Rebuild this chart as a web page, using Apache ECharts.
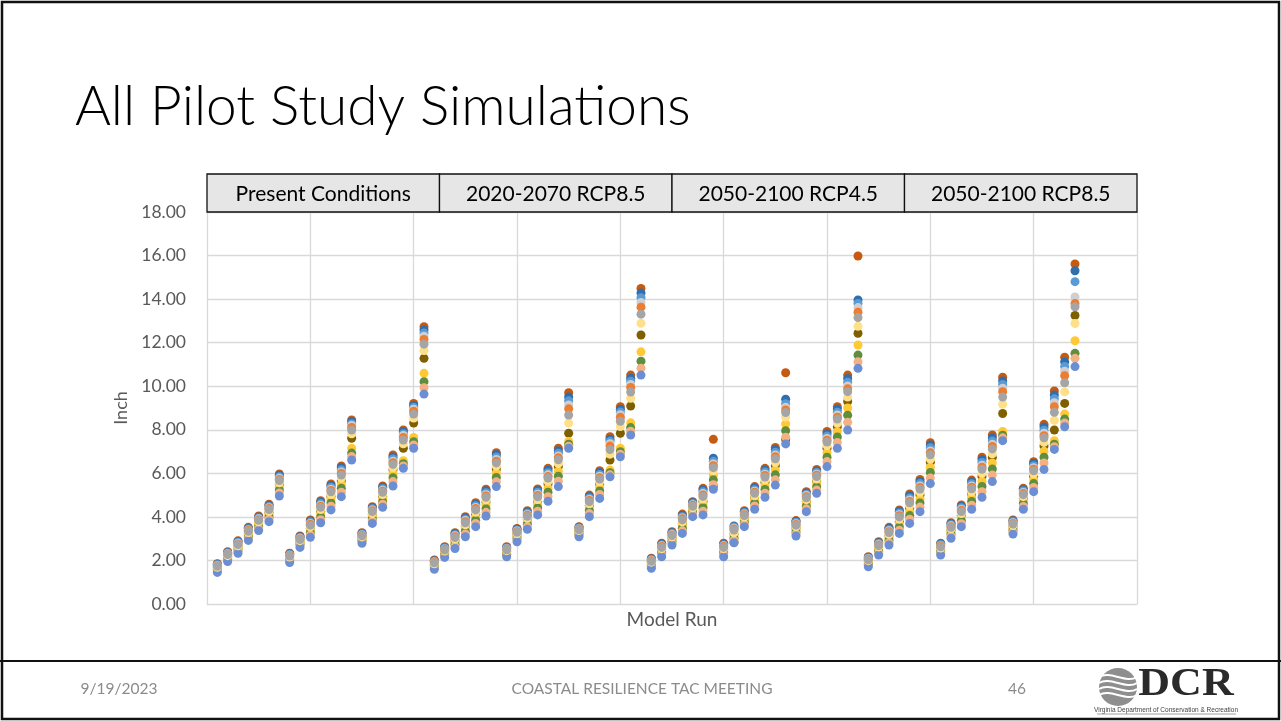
<!DOCTYPE html>
<html>
<head>
<meta charset="utf-8">
<script src="https://cdn.jsdelivr.net/npm/echarts@6/dist/echarts.min.js"></script>
<style>
html,body{margin:0;padding:0;background:#fff;}
#chart{width:1281px;height:721px;}
</style>
</head>
<body>
<div id="chart"></div>
<script>
// ---- Data ----
const runs = [1,2,3,4,5,6,7,8,9,10,11,12,13,14,15,16,17,18,19,20,21,
  22,23,24,25,26,27,28,29,30,31,32,33,34,35,36,37,38,39,40,41,42,
  43,44,45,46,47,48,49,50,51,52,53,54,55,56,57,58,59,60,61,62,63,
  64,65,66,67,68,69,70,71,72,73,74,75,76,77,78,79,80,81,82,83,84];

const panelLabels = ['Present Conditions','2020-2070 RCP8.5','2050-2100 RCP4.5','2050-2100 RCP8.5'];
const yTicks = [0,2,4,6,8,10,12,14,16,18];

const brown = [1.85,2.40,2.90,3.52,4.04,4.58,5.97, 2.33,3.12,3.86,4.74,5.51,6.34,8.45, 3.27,4.47,5.42,6.84,7.99,9.21,12.73,
  2.02,2.63,3.27,4.01,4.65,5.27,6.95, 2.63,3.47,4.28,5.28,6.23,7.15,9.70, 3.55,5.00,6.12,7.68,9.06,10.51,14.49,
  2.10,2.79,3.32,4.13,4.70,5.31,7.56, 2.79,2.83,4.28,5.39,6.23,7.19,10.62, 3.83,5.16,6.18,7.92,9.06,10.51,15.98,
  2.17,2.86,3.52,4.32,5.05,5.72,7.41, 2.79,3.73,4.55,5.69,6.74,7.76,10.41, 3.86,5.31,6.53,8.25,9.78,11.33,15.61];
const darkBlue = [1.83,2.37,2.87,3.48,4.00,4.53,5.91, 2.30,3.09,3.81,4.68,5.44,6.26,8.37, 3.24,4.42,5.36,6.75,7.91,9.12,12.59,
  1.99,2.60,3.23,3.95,4.58,5.20,6.86, 2.60,3.43,4.23,5.21,6.14,7.04,9.51, 3.52,4.94,6.04,7.57,8.94,10.37,14.28,
  2.07,2.75,3.28,4.08,4.66,5.24,6.69, 2.75,3.58,4.24,5.33,6.15,7.09,9.40, 3.79,5.10,6.11,7.82,8.95,10.36,13.96,
  2.14,2.82,3.47,4.26,4.97,5.63,7.30, 2.76,3.69,4.49,5.61,6.63,7.63,10.24, 3.82,5.25,6.45,8.13,9.60,11.12,15.30];
const lightBlue = [1.80,2.34,2.83,3.44,3.95,4.48,5.84, 2.27,3.05,3.76,4.61,5.36,6.16,8.28, 3.21,4.37,5.29,6.66,7.82,9.03,12.44,
  1.96,2.57,3.18,3.89,4.51,5.11,6.75, 2.57,3.39,4.17,5.13,6.03,6.92,9.33, 3.49,4.87,5.95,7.47,8.82,10.23,14.06,
  2.04,2.71,3.24,4.01,4.61,5.15,6.55, 2.71,3.53,4.19,5.25,6.06,6.97,9.20, 3.74,5.04,6.04,7.71,8.81,10.18,13.80,
  2.11,2.78,3.41,4.18,4.87,5.53,7.17, 2.72,3.64,4.42,5.52,6.50,7.48,10.08, 3.78,5.19,6.35,7.98,9.42,10.91,14.80];
const lightGray = [1.77,2.31,2.79,3.40,3.91,4.42,5.77, 2.24,3.02,3.70,4.54,5.27,6.06,8.20, 3.17,4.32,5.22,6.56,7.74,8.94,12.30,
  1.93,2.53,3.13,3.83,4.43,5.02,6.64, 2.54,3.35,4.11,5.04,5.93,6.80,9.14, 3.46,4.80,5.87,7.36,8.69,10.08,13.85,
  2.01,2.67,3.20,3.95,4.56,5.07,6.43, 2.67,3.48,4.13,5.18,5.96,6.84,9.03, 3.69,4.98,5.96,7.60,8.68,10.01,13.61,
  2.08,2.74,3.36,4.10,4.78,5.42,7.03, 2.68,3.59,4.35,5.42,6.37,7.33,9.91, 3.73,5.12,6.26,7.84,9.24,10.69,14.10];
const orange = [1.75,2.29,2.76,3.37,3.87,4.38,5.72, 2.22,2.99,3.66,4.49,5.21,5.99,8.11, 3.15,4.28,5.18,6.49,7.65,8.85,12.15,
  1.91,2.51,3.09,3.78,4.38,4.96,6.56, 2.52,3.32,4.07,4.98,5.85,6.71,8.96, 3.44,4.75,5.80,7.25,8.57,9.94,13.63,
  1.99,2.64,3.17,3.91,4.53,5.01,6.35, 2.64,3.44,4.10,5.13,5.90,6.76,8.91, 3.65,4.93,5.91,7.52,8.58,9.88,13.40,
  2.06,2.71,3.32,4.05,4.71,5.35,6.94, 2.66,3.55,4.30,5.36,6.28,7.23,9.75, 3.70,5.07,6.19,7.73,9.06,10.48,13.80];
const gray = [1.73,2.27,2.73,3.34,3.84,4.34,5.67, 2.20,2.96,3.62,4.44,5.15,5.92,7.99, 3.13,4.24,5.13,6.41,7.53,8.72,11.93,
  1.89,2.48,3.05,3.73,4.32,4.90,6.48, 2.49,3.29,4.03,4.92,5.78,6.62,8.68, 3.41,4.70,5.74,7.09,8.39,9.73,13.31,
  1.96,2.60,3.14,3.86,4.49,4.94,6.26, 2.60,3.40,4.06,5.08,5.83,6.67,8.79, 3.62,4.88,5.85,7.44,8.49,9.75,13.15,
  2.03,2.68,3.28,4.00,4.65,5.28,6.85, 2.63,3.52,4.25,5.29,6.19,7.12,9.50, 3.67,5.02,6.12,7.63,8.80,10.16,13.65];
const lightYellow = [1.69,2.22,2.67,3.28,3.77,4.26,5.57, 2.16,2.91,3.54,4.34,5.03,5.78,7.82, 3.08,4.16,5.03,6.27,7.36,8.54,11.64,
  1.85,2.43,2.98,3.64,4.21,4.78,6.33, 2.45,3.23,3.94,4.80,5.63,6.45,8.31, 3.37,4.60,5.61,6.88,8.15,9.45,12.89,
  1.92,2.54,3.08,3.77,4.42,4.82,6.12, 2.54,3.27,3.99,4.97,5.70,6.50,8.58, 3.55,4.79,5.74,7.28,8.30,9.50,12.75,
  1.99,2.62,3.20,3.89,4.51,5.13,6.66, 2.57,3.45,4.15,5.15,6.00,6.90,9.17, 3.60,4.93,5.98,7.42,8.44,9.74,12.88];
const olive = [1.66,2.18,2.63,3.23,3.72,4.20,5.49, 2.12,2.87,3.48,4.26,4.94,5.66,7.61, 3.04,4.10,4.95,6.16,7.15,8.31,11.28,
  1.81,2.39,2.92,3.57,4.12,4.68,6.20, 2.41,3.18,3.87,4.71,5.51,6.31,7.84, 3.33,4.52,5.51,6.61,7.84,9.09,12.35,
  1.88,2.49,3.03,3.70,4.37,4.72,5.41, 2.49,3.21,3.93,4.89,5.59,6.36,7.55, 3.49,4.72,5.65,7.15,8.14,9.30,12.43,
  1.95,2.57,3.13,3.80,4.40,5.01,6.51, 2.53,3.39,4.07,5.05,5.86,6.73,8.75, 3.55,4.85,5.87,7.26,7.99,9.21,13.25];
const yellow = [1.61,2.13,2.56,3.16,3.64,4.10,5.36, 2.07,2.81,3.38,4.13,4.80,5.49,7.15, 2.98,4.01,4.83,5.99,6.58,7.65,10.59,
  1.76,2.34,2.84,3.46,3.99,4.53,6.01, 2.35,3.10,3.77,4.57,5.32,6.09,7.46, 3.27,4.41,5.36,6.15,7.15,8.32,11.58,
  1.82,2.42,2.95,3.60,4.29,4.58,5.91, 2.42,3.12,3.84,4.77,5.43,6.15,8.27, 3.40,4.61,5.52,6.95,7.91,9.00,11.89,
  1.89,2.49,3.03,3.67,4.24,4.83,6.28, 2.47,3.30,3.95,4.89,5.64,6.48,7.92, 3.47,4.73,5.71,7.01,7.50,8.72,12.09];
const green = [1.56,2.07,2.48,3.08,3.55,4.00,5.23, 2.02,2.74,3.28,4.00,4.64,5.31,6.93, 2.92,3.91,4.70,5.80,6.44,7.45,10.21,
  1.71,2.27,2.74,3.34,3.85,4.37,5.81, 2.29,3.02,3.66,4.41,5.13,5.87,7.34, 3.21,4.28,5.19,6.03,6.99,8.10,11.15,
  1.76,2.34,2.87,3.48,4.20,4.42,5.70, 2.34,3.02,3.75,4.63,5.26,5.93,7.96, 3.31,4.49,5.38,6.74,7.67,8.67,11.43,
  1.83,2.41,2.93,3.53,4.06,4.64,6.04, 2.40,3.21,3.82,4.71,5.40,6.20,7.75, 3.39,4.61,5.53,6.74,7.34,8.49,11.51];
const salmon = [1.51,2.01,2.41,3.00,3.46,3.89,5.10, 1.96,2.67,3.17,3.87,4.49,5.13,6.77, 2.86,3.81,4.58,5.62,6.34,7.30,9.93,
  1.65,2.21,2.65,3.22,3.70,4.21,5.61, 2.23,2.95,3.55,4.26,4.93,5.64,7.24, 3.15,4.15,5.03,5.93,6.88,7.93,10.83,
  1.70,2.26,2.80,3.36,4.11,4.26,5.48, 2.26,2.92,3.65,4.50,5.09,5.70,7.66, 3.22,4.37,5.23,6.54,7.42,8.34,11.12,
  1.77,2.34,2.82,3.39,3.89,4.45,5.79, 2.33,3.12,3.69,4.54,5.16,5.92,7.63, 3.30,4.48,5.35,6.47,7.22,8.31,11.28];
const periwinkle = [1.45,1.95,2.33,2.92,3.37,3.78,4.96, 1.90,2.60,3.06,3.73,4.32,4.93,6.61, 2.79,3.70,4.44,5.42,6.23,7.15,9.64,
  1.59,2.14,2.55,3.09,3.55,4.04,5.39, 2.17,2.86,3.43,4.09,4.72,5.39,7.15, 3.09,4.01,4.85,5.84,6.76,7.76,10.51,
  1.64,2.17,2.71,3.24,4.01,4.09,5.27, 2.17,2.81,3.55,4.35,4.90,5.46,7.35, 3.12,4.24,5.08,6.31,7.15,7.99,10.82,
  1.71,2.25,2.71,3.24,3.70,4.24,5.53, 2.25,3.02,3.55,4.35,4.90,5.62,7.50, 3.21,4.35,5.16,6.18,7.10,8.14,10.90];

// ---- Styling ----
const seriesDefs = [
  {name:'S1', data:brown, color:'#C55A11'},
  {name:'S2', data:darkBlue, color:'#2F6FAE'},
  {name:'S3', data:lightBlue, color:'#5B9BD5'},
  {name:'S4', data:lightGray, color:'#D0CECE'},
  {name:'S5', data:orange, color:'#ED7D31'},
  {name:'S6', data:olive, color:'#7F6000'},
  {name:'S7', data:yellow, color:'#FFC935'},
  {name:'S8', data:green, color:'#5E8E3E'},
  {name:'S9', data:salmon, color:'#F4B183'},
  {name:'S10', data:periwinkle, color:'#6C8ED3'},
  {name:'S11', data:lightYellow, color:'#FFE08A'},
  {name:'S12', data:gray, color:'#A5A5A5'}
];

const G = {left:207, top:212, width:930, height:392};
const headerTop = 174, headerH = G.top - headerTop;
const W = 1281, H = 721;
const FONT = 'Lato, "Open Sans", sans-serif';

const chart = echarts.init(document.getElementById('chart'), null, {renderer:'canvas'});

const graphics = [];
// slide frame
graphics.push({type:'rect', shape:{x:2, y:2, width:W-4, height:H-4}, style:{fill:'none', stroke:'#111', lineWidth:2.5}, z:0});
graphics.push({type:'line', shape:{x1:0, y1:661, x2:W, y2:661}, style:{stroke:'#111', lineWidth:2}, z:0});
// title
graphics.push({type:'text', x:75, y:107, style:{text:'All Pilot Study Simulations', font:'300 55px ' + FONT, fill:'#000', verticalAlign:'middle', align:'left'}});
// header boxes
const pw = G.width / panelLabels.length;
panelLabels.forEach((lab, i) => {
  graphics.push({type:'rect', shape:{x:G.left + i*pw, y:headerTop, width:pw, height:headerH},
    style:{fill:'#E7E6E6', stroke:'#111', lineWidth:1.3}, z:5});
  graphics.push({type:'text', x:G.left + i*pw + pw/2, y:headerTop + headerH/2 + 1,
    style:{text:lab, font:'21px ' + FONT, fill:'#000', align:'center', verticalAlign:'middle'}, z:6});
});
// footer
const footFont = '15.5px ' + FONT;
graphics.push({type:'text', x:119, y:689, style:{text:'9/19/2023', font:footFont, fill:'#8B8B8B', align:'center', verticalAlign:'middle'}});
graphics.push({type:'text', x:642, y:689, style:{text:'COASTAL RESILIENCE TAC MEETING', font:footFont, fill:'#8B8B8B', align:'center', verticalAlign:'middle'}});
graphics.push({type:'text', x:1017, y:689, style:{text:'46', font:footFont, fill:'#8B8B8B', align:'center', verticalAlign:'middle'}});
// logo
graphics.push({type:'circle', shape:{cx:1118, cy:687, r:19}, style:{fill:'#8E8E8E'}});
[-10,-4,2,8].forEach(d => {
  graphics.push({type:'bezierCurve', shape:{x1:1099, y1:687+d, x2:1137, y2:687+d, cpx1:1110, cpy1:680+d, cpx2:1126, cpy2:694+d},
    style:{stroke:'#fff', lineWidth:2, fill:'none'}});
});
graphics.push({type:'text', x:1186, y:685, scaleX:1.1,
  style:{text:'DCR', x:0, y:0, font:'bold 40px "Liberation Serif", "DejaVu Serif", serif', fill:'#2a2a2a', align:'center', verticalAlign:'middle'}});
graphics.push({type:'text', x:1166, y:710, style:{text:'Virginia Department of Conservation & Recreation', font:'6.5px "Liberation Sans Narrow", "Liberation Sans", sans-serif', fill:'#444', align:'center', verticalAlign:'middle'}});
graphics.push({type:'line', shape:{x1:1097, y1:714, x2:1236, y2:714}, style:{stroke:'#888', lineWidth:0.8}});

const option = {
  animation:false,
  backgroundColor:'#fff',
  grid:{left:G.left, top:G.top, width:G.width, height:G.height, containLabel:false},
  xAxis:{
    type:'value', min:0, max:90, interval:10,
    axisLabel:{show:false}, axisTick:{show:false},
    axisLine:{show:true, lineStyle:{color:'#D9D9D9', width:1}},
    splitLine:{show:true, lineStyle:{color:'#D9D9D9', width:1.3}},
    name:'Model Run', nameLocation:'middle', nameGap:6,
    nameTextStyle:{fontFamily:FONT, fontSize:19, color:'#595959', verticalAlign:'top'}
  },
  yAxis:{
    type:'value', min:yTicks[0], max:yTicks[yTicks.length-1], interval:yTicks[1]-yTicks[0],
    axisLabel:{formatter:v => v.toFixed(2), fontFamily:FONT, fontSize:17.5, color:'#595959', margin:21},
    axisTick:{show:false},
    axisLine:{show:true, lineStyle:{color:'#D9D9D9', width:1}},
    splitLine:{show:true, lineStyle:{color:'#D9D9D9', width:1.3}},
    name:'Inch', nameLocation:'middle', nameRotate:90, nameGap:76,
    nameTextStyle:{fontFamily:FONT, fontSize:18, color:'#595959'}
  },
  series: seriesDefs.map(s => ({
    name:s.name, type:'scatter', symbol:'circle', symbolSize:9,
    itemStyle:{color:s.color, opacity:1},
    data: runs.map((r, i) => [r, s.data[i]])
  })),
  graphic: graphics
};
chart.setOption(option);
</script>
</body>
</html>
